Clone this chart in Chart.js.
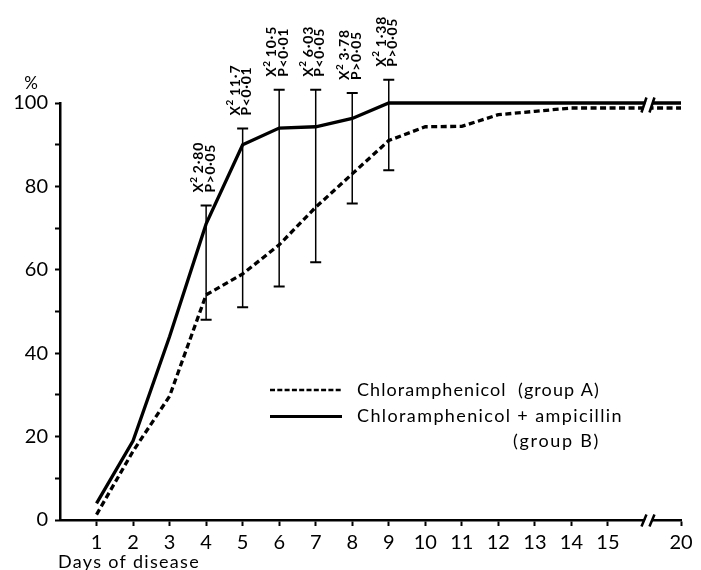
<!DOCTYPE html>
<html><head><meta charset="utf-8">
<script src="https://cdn.jsdelivr.net/npm/chart.js@4.4.0/dist/chart.umd.min.js"></script>
<style>body{margin:0;background:#fff}canvas{display:block}</style>
</head>
<body>
<canvas id="c" width="701" height="570"></canvas>
<script>
// ---- data ----
const days = [1,2,3,4,5,6,7,8,9,10,11,12,13,14,15,20];
const groupA = [1.3,16.5,29.7,54,59,66,75,83,91,94.3,94.4,97.2,98,98.8,98.8,98.8];   // Chloramphenicol (group A)
const groupB = [4,19,44,71,90,94,94.3,96.3,100,100,100,100,100,100,100,100];          // Chloramphenicol + ampicillin (group B)
const errDays = [4,5,6,7,8,9];
const errLow  = [48,51,56,61.8,75.9,83.9];
const errHigh = [75.4,93.9,103.2,103.2,102.4,105.6];
const chiSq   = ['2·80','11·7','10·5','6·03','3·78','1·38'];
const pText   = ['P>0·05','P<0·01','P<0·01','P<0·05','P>0·05','P>0·05'];
const xTickDays = [1,2,3,4,5,6,7,8,9,10,11,12,13,14,15,20];
const yTicks = [0,20,40,60,80,100];
const labelA = 'Chloramphenicol  (group A)';
const labelB1 = 'Chloramphenicol + ampicillin';
const labelB2 = '(group B)';

// broken axis: days after 15 are compressed, 20 sits two units after 15
const axisPos = d => d <= 15 ? d : 17;

const FONT = 'Lato, "Noto Sans", sans-serif';

function fitText(ctx, text, x, y, width) {
  ctx.letterSpacing = '0px';
  const w = ctx.measureText(text).width;
  const ls = (width - w) / Math.max(1, text.length);
  ctx.letterSpacing = ls + 'px';
  ctx.fillText(text, x, y);
  ctx.letterSpacing = '0px';
}

const extras = {
  id: 'extras',
  afterDraw(chart) {
    const ctx = chart.ctx;
    const xs = chart.scales.x, ys = chart.scales.y;
    ctx.save();
    ctx.fillStyle = '#000';
    ctx.strokeStyle = '#000';

    // error bars
    errDays.forEach((d, i) => {
      const x = xs.getPixelForValue(axisPos(d));
      const y1 = ys.getPixelForValue(errLow[i]);
      const y2 = ys.getPixelForValue(errHigh[i]);
      ctx.lineWidth = 1.5;
      ctx.beginPath(); ctx.moveTo(x, y1); ctx.lineTo(x, y2); ctx.stroke();
      ctx.lineWidth = 2;
      ctx.beginPath();
      ctx.moveTo(x - 5.5, y1); ctx.lineTo(x + 5.5, y1);
      ctx.moveTo(x - 5.5, y2); ctx.lineTo(x + 5.5, y2);
      ctx.stroke();

      // rotated statistics
      const yb = y2 - 13;
      ctx.save();
      ctx.font = 'bold 14px ' + FONT;
      ctx.textAlign = 'left';
      ctx.textBaseline = 'middle';
      ctx.translate(x - 7.5, yb);
      ctx.rotate(-Math.PI / 2);
      ctx.fillText('X', 0, 0);
      const wx = ctx.measureText('X').width;
      ctx.font = 'bold 10px ' + FONT;
      ctx.fillText('2', wx + 0.5, -5);
      ctx.font = 'bold 14px ' + FONT;
      ctx.letterSpacing = '0.8px';
      ctx.fillText(chiSq[i], wx + 10, 0);
      ctx.restore();
      ctx.save();
      ctx.font = 'bold 14px ' + FONT;
      ctx.textAlign = 'left';
      ctx.textBaseline = 'middle';
      ctx.translate(x + 4, yb);
      ctx.rotate(-Math.PI / 2);
      ctx.letterSpacing = '0.6px';
      ctx.fillText(pText[i], 0, 0);
      ctx.restore();
    });

    // axis break marks
    const bx = (xs.getPixelForValue(15) + xs.getPixelForValue(17)) / 2 + 2;
    const yTop = ys.getPixelForValue(100);
    const yBot = ys.bottom;
    const breakAt = (yc, h) => {
      ctx.fillStyle = '#fff';
      ctx.beginPath();
      ctx.moveTo(bx - 4, yc + h); ctx.lineTo(bx + 1, yc - h);
      ctx.lineTo(bx + 8, yc - h); ctx.lineTo(bx + 3, yc + h);
      ctx.closePath(); ctx.fill();
      ctx.strokeStyle = '#000';
      ctx.lineWidth = 2.5;
      ctx.beginPath();
      ctx.moveTo(bx - 5, yc + h); ctx.lineTo(bx, yc - h);
      ctx.moveTo(bx + 3, yc + h); ctx.lineTo(bx + 8, yc - h);
      ctx.stroke();
    };
    breakAt(yTop + 2, 7.5);
    breakAt(yBot + 0.5, 6);

    // legend
    ctx.fillStyle = '#000';
    ctx.lineWidth = 2.5;
    ctx.setLineDash([5, 2.3]);
    ctx.beginPath(); ctx.moveTo(270, 390); ctx.lineTo(342, 390); ctx.stroke();
    ctx.setLineDash([]);
    ctx.lineWidth = 3;
    ctx.beginPath(); ctx.moveTo(270, 416.5); ctx.lineTo(342, 416.5); ctx.stroke();
    ctx.font = '18px ' + FONT;
    ctx.textAlign = 'left';
    ctx.textBaseline = 'middle';
    fitText(ctx, labelA, 357, 390, 243);
    fitText(ctx, labelB1, 357, 416.5, 266);
    fitText(ctx, labelB2, 513, 441, 87);

    // y unit and x title
    ctx.font = '17px ' + FONT;
    ctx.textAlign = 'center';
    ctx.fillText('%', 31, 84);
    ctx.font = '18px ' + FONT;
    ctx.textAlign = 'left';
    fitText(ctx, 'Days of disease', 58, 562, 142);
    ctx.restore();
  }
};

new Chart(document.getElementById('c'), {
  type: 'line',
  data: {
    datasets: [
      { label: 'Chloramphenicol (group A)',
        data: days.map((d, i) => ({ x: axisPos(d), y: groupA[i] })),
        borderColor: '#000', borderWidth: 3.3, borderDash: [6, 3.5],
        pointRadius: 0, tension: 0, fill: false, clip: false },
      { label: 'Chloramphenicol + ampicillin (group B)',
        data: days.map((d, i) => ({ x: axisPos(d), y: groupB[i] })),
        borderColor: '#000', borderWidth: 3.3,
        pointRadius: 0, tension: 0, fill: false, clip: false }
    ]
  },
  options: {
    responsive: false,
    animation: false,
    devicePixelRatio: 1,
    layout: { padding: { top: 103, right: 20, left: 0, bottom: 0 } },
    plugins: { legend: { display: false }, tooltip: { enabled: false } },
    scales: {
      x: {
        type: 'linear', min: 0, max: 17,
        afterBuildTicks: s => { s.ticks = xTickDays.map(d => ({ value: axisPos(d) })); },
        afterFit: s => { s.height = 50; },
        ticks: {
          autoSkip: false, maxRotation: 0, padding: 5, color: '#000',
          font: { family: FONT, size: 20 },
          callback: (v, i) => String(xTickDays[i])
        },
        grid: { drawOnChartArea: false, drawTicks: true, tickLength: 6, tickWidth: 2, tickColor: '#000' },
        border: { display: true, color: '#000', width: 2.5 }
      },
      y: {
        min: 0, max: 100,
        afterFit: s => { s.width = 60; },
        ticks: {
          stepSize: 10, padding: 7, color: '#000',
          font: { family: FONT, size: 20 },
          callback: v => yTicks.includes(v) ? String(v) : ''
        },
        grid: { drawOnChartArea: false, drawTicks: true, tickLength: 5, tickWidth: 2, tickColor: '#000' },
        border: { display: true, color: '#000', width: 2.5 }
      }
    }
  },
  plugins: [extras]
});
</script>
</body></html>
